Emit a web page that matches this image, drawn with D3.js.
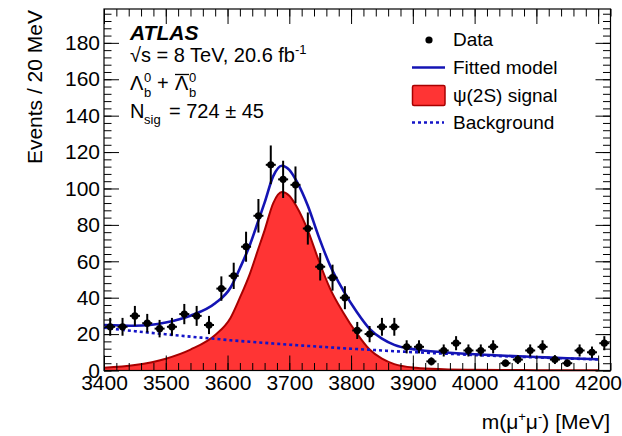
<!DOCTYPE html>
<html>
<head>
<meta charset="utf-8">
<script src="https://cdn.jsdelivr.net/npm/d3@7"></script>
<style>
  body { margin: 0; background: #fff; }
  svg { display: block; }
  text { font-family: "Liberation Sans", Arial, Helvetica, sans-serif; fill: #000; }
</style>
</head>
<body>
<svg id="chart" width="622" height="436"></svg>
<script>
// Dimuon invariant mass spectrum, 20 MeV bins
const binCenters = [3410,3430,3450,3470,3490,3510,3530,3550,3570,3590,3610,3630,3650,3670,3690,3710,
  3730,3750,3770,3790,3810,3830,3850,3870,3890,3910,3930,3950,3970,3990,4010,4030,4050,4070,4090,4110,
  4130,4150,4170,4190,4210];
const counts = [24,24,30,26,23,24,31,30,25,45,52,68,85,113,105,102,
  78,57,51,40,22,20,24,24,13,13,5,11,15,11,11,13,4,6,11,13,
  6,4,11,10,15];

// Fit components sampled along the mass axis
const curveMass = [3400,3450,3500,3540,3580,3605,3620,3636,3650,3660,3674,3688,3700,3712,3730,3747,
  3766,3787,3809,3830,3850,3870,3905,3950,4000,4050,4100,4150,4200];
const signalCurve = [1.5,3.0,6.5,11.5,19.5,29,40,53,67,77,92,98,96,90,77,61,
  45,32,20.5,11.5,6.5,3.5,1.5,0.7,0.4,0.25,0.18,0.12,0.08];
const backgroundCurve = [23.5,21.6,19.9,18.6,17.4,16.6,16.2,15.8,15.4,15.2,14.8,14.5,14.2,13.9,13.5,13.1,
  12.7,12.2,11.8,11.4,11.0,10.6,10.0,9.3,8.5,7.8,7.2,6.6,6.1];
const fittedCurve = [25.0,24.6,26.4,30.1,36.9,45.6,56.2,68.8,82.4,92.2,106.8,112.5,110.2,103.9,90.5,74.1,
  57.7,44.2,32.3,22.9,17.5,14.1,11.5,10.0,8.9,8.1,7.4,6.7,6.2];

const xMajorTicks = [3400,3500,3600,3700,3800,3900,4000,4100,4200];
const yMajorTicks = [0,20,40,60,80,100,120,140,160,180];

const svg = d3.select("#chart");
const frameL = 104, frameR = 610.5, frameT = 9, frameB = 370.5;
const x = d3.scaleLinear().domain([3400, 4220]).range([frameL, frameR]);
const y = d3.scaleLinear().domain([0, 198.6]).range([frameB, frameT]);

const xMinor = d3.range(3400, 4221, 20);
const yMinor = d3.range(0, 199, 4);

// Signal component (filled)
const sigPts = curveMass.map((m, i) => [m, signalCurve[i]]);
svg.append("path")
  .datum(sigPts)
  .attr("d", d3.area().x(d => x(d[0])).y0(y(0)).y1(d => y(d[1])).curve(d3.curveMonotoneX))
  .attr("fill", "#ff3434");
svg.append("path")
  .datum(sigPts)
  .attr("d", d3.line().x(d => x(d[0])).y(d => y(d[1])).curve(d3.curveMonotoneX))
  .attr("fill", "none").attr("stroke", "#a80000").attr("stroke-width", 2);

// Background component (dashed)
svg.append("path")
  .datum(curveMass.map((m, i) => [m, backgroundCurve[i]]))
  .attr("d", d3.line().x(d => x(d[0])).y(d => y(d[1])).curve(d3.curveMonotoneX))
  .attr("fill", "none").attr("stroke", "#1414c8").attr("stroke-width", 2.6)
  .attr("stroke-dasharray", "3,3");

// Total fitted model
svg.append("path")
  .datum(curveMass.map((m, i) => [m, fittedCurve[i]]))
  .attr("d", d3.line().x(d => x(d[0])).y(d => y(d[1])).curve(d3.curveMonotoneX))
  .attr("fill", "none").attr("stroke", "#1414b4").attr("stroke-width", 2.6);

// Frame and axes (ticks pointing inward on all four sides)
function styleAxis(g) {
  g.select(".domain").remove();
  g.selectAll("line").attr("stroke", "#000").attr("stroke-width", 1);
  g.selectAll("text").style("font-family", '"Liberation Sans", Arial, sans-serif')
    .style("font-size", "21px").attr("fill", "#000");
}
svg.append("g").attr("transform", `translate(0,${frameB})`)
  .call(d3.axisBottom(x).tickValues(xMinor).tickSize(-7.5).tickFormat("")).call(styleAxis);
svg.append("g").attr("transform", `translate(0,${frameB})`)
  .call(d3.axisBottom(x).tickValues(xMajorTicks).tickSize(-15).tickPadding(4.5).tickFormat(d3.format("d")))
  .call(styleAxis);
svg.append("g").attr("transform", `translate(0,${frameT})`)
  .call(d3.axisTop(x).tickValues(xMinor).tickSize(-7.5).tickFormat("")).call(styleAxis);
svg.append("g").attr("transform", `translate(0,${frameT})`)
  .call(d3.axisTop(x).tickValues(xMajorTicks).tickSize(-15).tickFormat("")).call(styleAxis);
svg.append("g").attr("transform", `translate(${frameL},0)`)
  .call(d3.axisLeft(y).tickValues(yMinor).tickSize(-7.5).tickFormat("")).call(styleAxis);
svg.append("g").attr("transform", `translate(${frameL},0)`)
  .call(d3.axisLeft(y).tickValues(yMajorTicks).tickSize(-15).tickPadding(4).tickFormat(d3.format("d")))
  .call(styleAxis);
svg.append("g").attr("transform", `translate(${frameR},0)`)
  .call(d3.axisRight(y).tickValues(yMinor).tickSize(-7.5).tickFormat("")).call(styleAxis);
svg.append("g").attr("transform", `translate(${frameR},0)`)
  .call(d3.axisRight(y).tickValues(yMajorTicks).tickSize(-15).tickFormat("")).call(styleAxis);
svg.append("rect").attr("x", frameL).attr("y", frameT).attr("width", frameR - frameL).attr("height", frameB - frameT)
  .attr("fill", "none").attr("stroke", "#000").attr("stroke-width", 1.2);

// Data points with Poisson error bars
const pts = svg.append("g");
binCenters.forEach((m, i) => {
  const n = counts[i], e = Math.sqrt(n);
  const cx = x(m), cy = y(n);
  pts.append("line").attr("x1", cx).attr("x2", cx).attr("y1", y(n - e)).attr("y2", y(n + e))
    .attr("stroke", "#000").attr("stroke-width", 2);
  pts.append("line").attr("x1", cx - 5).attr("x2", cx + 5).attr("y1", cy).attr("y2", cy)
    .attr("stroke", "#000").attr("stroke-width", 2);
  pts.append("circle").attr("cx", cx).attr("cy", cy).attr("r", 3.6).attr("fill", "#000");
});

// Axis titles
svg.append("text").attr("transform", "translate(42,10) rotate(-90)")
  .attr("text-anchor", "end").style("font-size", "21px").text("Events / 20 MeV");
const xt = svg.append("text").attr("x", 610).attr("y", 429).attr("text-anchor", "end").style("font-size", "21px");
xt.append("tspan").text("m(μ");
xt.append("tspan").attr("dy", -8).style("font-size", "13px").text("+");
xt.append("tspan").attr("dy", 8).text("μ");
xt.append("tspan").attr("dy", -8).style("font-size", "13px").text("-");
xt.append("tspan").attr("dy", 8).text(") [MeV]");

// Labels
svg.append("text").attr("x", 130).attr("y", 40).style("font-size", "21px")
  .style("font-weight", "bold").style("font-style", "italic").text("ATLAS");
const l2 = svg.append("text").attr("x", 130).attr("y", 62).style("font-size", "20px");
l2.append("tspan").text("√s = 8 TeV, 20.6 fb");
l2.append("tspan").attr("dy", -8).style("font-size", "13px").text("-1");

function lambda(x0, bar) {
  svg.append("text").attr("x", x0).attr("y", 90).style("font-size", "20px").text("Λ");
  svg.append("text").attr("x", x0 + 14).attr("y", 82).style("font-size", "13px").text("0");
  svg.append("text").attr("x", x0 + 14).attr("y", 97).style("font-size", "13px").text("b");
  if (bar) svg.append("line").attr("x1", x0).attr("x2", x0 + 14).attr("y1", 74.5).attr("y2", 74.5)
    .attr("stroke", "#000").attr("stroke-width", 1.3);
}
lambda(130, false);
svg.append("text").attr("x", 157).attr("y", 90).style("font-size", "20px").text("+");
lambda(175, true);

svg.append("text").attr("x", 130).attr("y", 118).style("font-size", "20px").text("N");
svg.append("text").attr("x", 144).attr("y", 124).style("font-size", "13px").text("sig");
svg.append("text").attr("x", 169).attr("y", 118).style("font-size", "20px").text("= 724 ± 45");

// Legend
const lg = svg.append("g");
lg.append("circle").attr("cx", 429).attr("cy", 40).attr("r", 3.6).attr("fill", "#000");
lg.append("line").attr("x1", 412).attr("x2", 445).attr("y1", 67.5).attr("y2", 67.5)
  .attr("stroke", "#1414b4").attr("stroke-width", 2.6);
lg.append("rect").attr("x", 412.5).attr("y", 85.5).attr("width", 32.5).attr("height", 20).attr("rx", 1.5)
  .attr("fill", "#ff3434").attr("stroke", "#a80000").attr("stroke-width", 1.5);
lg.append("line").attr("x1", 412).attr("x2", 444).attr("y1", 122.5).attr("y2", 122.5)
  .attr("stroke", "#1414c8").attr("stroke-width", 2.6).attr("stroke-dasharray", "3,3");
const legendLabels = ["Data", "Fitted model", "ψ(2S) signal", "Background"];
const legendBaselines = [46, 73.5, 101.5, 128.5];
legendLabels.forEach((t, i) => {
  lg.append("text").attr("x", 453).attr("y", legendBaselines[i]).style("font-size", "19px").text(t);
});
</script>
</body>
</html>
